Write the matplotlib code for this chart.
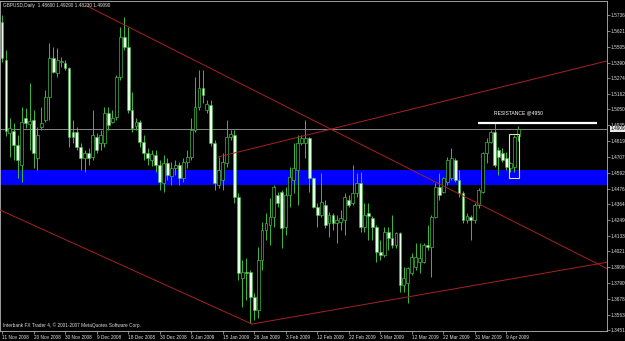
import matplotlib
matplotlib.use('Agg')
import matplotlib.pyplot as plt
from matplotlib.patches import Rectangle
import matplotlib.transforms as mtransforms
import numpy as np

plt.rcParams['font.family'] = ['Liberation Sans', 'DejaVu Sans']

title_text = "GBPUSD,Daily  1.48600 1.49290 1.48230 1.49090"
footer_text = "Interbank FX Trader 4, \u00a9 2001-2007 MetaQuotes Software Corp."
resistance_text = "RESISTANCE @4950"

opens = [
    1.5684, 1.5409, 1.4879, 1.4894, 1.4792, 1.4647, 1.4988, 1.4945, 1.4974, 1.4698,
    1.4923, 1.4974, 1.5140, 1.5423, 1.5314, 1.5394, 1.5386, 1.5351, 1.4887, 1.4887,
    1.4778, 1.4698, 1.4734, 1.4705, 1.4850, 1.4807, 1.4807, 1.5024, 1.4959, 1.4995,
    1.5285, 1.5575, 1.5503, 1.5046, 1.4930, 1.4959, 1.4814, 1.4734, 1.4684, 1.4720,
    1.4647, 1.4517, 1.4662, 1.4568, 1.4626, 1.4647, 1.4553, 1.4669, 1.4705, 1.4901,
    1.5068, 1.5206, 1.5046, 1.5082, 1.4807, 1.4502, 1.4539, 1.4662, 1.4850, 1.4865,
    1.4415, 1.3828, 1.3872, 1.3872, 1.3690, 1.3596, 1.3958, 1.4176, 1.4212, 1.4270,
    1.4430, 1.4452, 1.4198, 1.4430, 1.4539, 1.4611, 1.4807, 1.4807, 1.4843, 1.4553,
    1.4343, 1.4285, 1.4357, 1.4227, 1.4285, 1.4227, 1.4234, 1.4248, 1.4393, 1.4372,
    1.4444, 1.4517, 1.4198, 1.4299, 1.4263, 1.4198, 1.4016, 1.3994, 1.4161, 1.4118,
    1.4067, 1.4154, 1.3777, 1.3792, 1.3864, 1.3908, 1.3944, 1.3944, 1.4067, 1.4053,
    1.4270, 1.4488, 1.4452, 1.4524, 1.4553, 1.4684, 1.4539, 1.4444, 1.4248, 1.4270,
    1.4248, 1.4357, 1.4452, 1.4734, 1.4814, 1.4887, 1.4756, 1.4734, 1.4698, 1.4626,
    1.4633, 1.4860]
highs = [
    1.5735, 1.5481, 1.4988, 1.4952, 1.4865, 1.5068, 1.5061, 1.5242, 1.5046, 1.4923,
    1.5068, 1.5191, 1.5532, 1.5503, 1.5496, 1.5430, 1.5409, 1.5358, 1.4974, 1.4923,
    1.4807, 1.4756, 1.4771, 1.5046, 1.4879, 1.4901, 1.5068, 1.5068, 1.5046, 1.5300,
    1.5648, 1.5720, 1.5648, 1.5177, 1.4988, 1.4974, 1.4865, 1.4771, 1.4756, 1.4756,
    1.4684, 1.4720, 1.4698, 1.4669, 1.4684, 1.4669, 1.4698, 1.4756, 1.4988, 1.5285,
    1.5336, 1.5336, 1.5118, 1.5118, 1.4828, 1.4705, 1.4734, 1.4974, 1.4901, 1.4901,
    1.4444, 1.3959, 1.3973, 1.3886, 1.3719, 1.4053, 1.4234, 1.4299, 1.4408, 1.4502,
    1.4452, 1.4466, 1.4488, 1.4633, 1.4807, 1.4865, 1.4865, 1.4974, 1.4850, 1.4560,
    1.4372, 1.4589, 1.4393, 1.4307, 1.4299, 1.4285, 1.4321, 1.4444, 1.4430, 1.4647,
    1.4589, 1.4597, 1.4372, 1.4372, 1.4278, 1.4212, 1.4103, 1.4198, 1.4198, 1.4285,
    1.4161, 1.4161, 1.3908, 1.3908, 1.4009, 1.4082, 1.4082, 1.4082, 1.4212, 1.4285,
    1.4517, 1.4589, 1.4560, 1.4705, 1.4771, 1.4698, 1.4611, 1.4459, 1.4299, 1.4285,
    1.4372, 1.4481, 1.4741, 1.4843, 1.4901, 1.4952, 1.4778, 1.4771, 1.4741, 1.4669,
    1.4865, 1.4929]
lows = [
    1.5394, 1.4858, 1.4705, 1.4684, 1.4553, 1.4524, 1.4916, 1.4756, 1.4626, 1.4611,
    1.4901, 1.4959, 1.4974, 1.5314, 1.5285, 1.5358, 1.5336, 1.4778, 1.4807, 1.4756,
    1.4611, 1.4597, 1.4647, 1.4684, 1.4734, 1.4756, 1.4778, 1.4901, 1.4952, 1.4974,
    1.5264, 1.5481, 1.5024, 1.4887, 1.4901, 1.4778, 1.4684, 1.4647, 1.4640, 1.4597,
    1.4466, 1.4452, 1.4539, 1.4502, 1.4575, 1.4502, 1.4524, 1.4626, 1.4684, 1.4887,
    1.5046, 1.5097, 1.5024, 1.4785, 1.4466, 1.4481, 1.4466, 1.4633, 1.4828, 1.4372,
    1.3814, 1.3618, 1.3669, 1.3502, 1.3524, 1.3538, 1.3886, 1.4103, 1.4067, 1.4198,
    1.4343, 1.4046, 1.4140, 1.4343, 1.4444, 1.4357, 1.4792, 1.4698, 1.4452, 1.4336,
    1.4198, 1.4270, 1.4190, 1.4125, 1.4176, 1.4082, 1.4176, 1.4140, 1.4343, 1.4357,
    1.4415, 1.4161, 1.4161, 1.4103, 1.4103, 1.3944, 1.3958, 1.3980, 1.4031, 1.4046,
    1.4046, 1.3726, 1.3726, 1.3647, 1.3850, 1.3886, 1.3864, 1.3937, 1.4031, 1.3835,
    1.4263, 1.4393, 1.4444, 1.4502, 1.4539, 1.4524, 1.4415, 1.4227, 1.4227, 1.4103,
    1.4227, 1.4336, 1.4444, 1.4662, 1.4807, 1.4633, 1.4575, 1.4669, 1.4611, 1.4597,
    1.4597, 1.4823]
closes = [
    1.5423, 1.4894, 1.4916, 1.4792, 1.4684, 1.4959, 1.4952, 1.4966, 1.4734, 1.4865,
    1.4952, 1.5140, 1.5423, 1.5322, 1.5409, 1.5401, 1.5351, 1.4850, 1.4850, 1.4778,
    1.4698, 1.4734, 1.4698, 1.4865, 1.4756, 1.4865, 1.5024, 1.4937, 1.4988, 1.5285,
    1.5575, 1.5503, 1.5046, 1.4916, 1.4959, 1.4814, 1.4734, 1.4698, 1.4727, 1.4647,
    1.4524, 1.4662, 1.4575, 1.4626, 1.4647, 1.4553, 1.4669, 1.4705, 1.4901, 1.5068,
    1.5206, 1.5155, 1.5089, 1.4807, 1.4517, 1.4611, 1.4669, 1.4850, 1.4872, 1.4415,
    1.3864, 1.3872, 1.3864, 1.3690, 1.3596, 1.3958, 1.4176, 1.4227, 1.4270, 1.4488,
    1.4372, 1.4190, 1.4430, 1.4560, 1.4626, 1.4807, 1.4843, 1.4843, 1.4553, 1.4343,
    1.4285, 1.4379, 1.4212, 1.4285, 1.4227, 1.4248, 1.4263, 1.4415, 1.4357, 1.4444,
    1.4517, 1.4198, 1.4285, 1.4278, 1.4198, 1.4016, 1.3994, 1.4161, 1.4118, 1.4067,
    1.4154, 1.3777, 1.3828, 1.3901, 1.3980, 1.3980, 1.3973, 1.4067, 1.4053, 1.4270,
    1.4488, 1.4430, 1.4553, 1.4684, 1.4698, 1.4539, 1.4444, 1.4248, 1.4278, 1.4248,
    1.4357, 1.4466, 1.4734, 1.4814, 1.4887, 1.4647, 1.4705, 1.4684, 1.4633, 1.4662,
    1.4850, 1.4909]

date_labels = ["11 Nov 2008", "20 Nov 2008", "30 Nov 2008", "9 Dec 2008", "18 Dec 2008",
               "30 Dec 2008", "6 Jan 2009", "15 Jan 2009", "26 Jan 2009", "3 Feb 2009",
               "12 Feb 2009", "22 Feb 2009", "3 Mar 2009", "12 Mar 2009", "22 Mar 2009",
               "31 Mar 2009", "9 Apr 2009"]
price_ticks = [1.57365, 1.56210, 1.55055, 1.53900, 1.52745, 1.51625, 1.50505, 1.49350,
               1.48195, 1.47075, 1.45920, 1.44765, 1.43645, 1.42490, 1.41335, 1.40215,
               1.39060, 1.37905, 1.36785, 1.35630, 1.34510]
bid_price = 1.49090
resistance_price = 1.4950
zone_low, zone_high = 1.4505, 1.4613
box_low, box_high = 1.4553, 1.4872

# trend lines: (bar index, price) endpoints
trend_lines = [
    ([21.3, 160.0], [1.5804, 1.3803]),
    ([54.8, 160.0], [1.4705, 1.5447]),
    ([63.45, 160.0], [1.3494, 1.3974]),
    ([-1.0, 63.45], [1.4327, 1.3494]),
]

GREEN = '#3cbc3c'
BEAR_FILL = '#e6ffe6'
RED = '#a82222'
AXIS_COL = '#b8b8b8'
TXT = '#e0e0e0'

W, H = 625, 341
fig = plt.figure(figsize=(W / 100, H / 100), dpi=100, facecolor='black')
ax = fig.add_axes([0, 10 / H, 607 / W, 330 / H])
ax.set_facecolor('black')

o = np.array(opens); h = np.array(highs); l = np.array(lows); c = np.array(closes)
idx = np.arange(len(o))

ax.axhspan(zone_low, zone_high, color='#0000ff', zorder=1, lw=0)
ax.axhline(bid_price, color='#9c9c9c', lw=0.6, zorder=2)

ax.vlines(idx, l, h, color=GREEN, lw=0.7, zorder=3)
bull = c >= o
bear = ~bull
bw = 0.72
ax.bar(idx[bull], np.maximum(c[bull] - o[bull], 0.00008), bottom=o[bull], width=bw,
       facecolor='black', edgecolor=GREEN, lw=0.5, zorder=4)
ax.bar(idx[bear], o[bear] - c[bear], bottom=c[bear], width=bw,
       facecolor=BEAR_FILL, edgecolor=GREEN, lw=0.4, zorder=4)

for xs, ys in trend_lines:
    ax.plot(xs, ys, color=RED, lw=0.7, zorder=5)

ax.plot([120.8, 151.0], [resistance_price, resistance_price], color='white', lw=1.6,
        solid_capstyle='butt', zorder=6)
ax.text(131.0, 1.5025, resistance_text, color='white', fontsize=3.6, ha='center',
        va='center', zorder=6)
ax.add_patch(Rectangle((128.7, box_low), 2.5, box_high - box_low, fill=False,
                       edgecolor='#dbe89a', lw=0.8, zorder=6))

ax.set_xlim(-0.508, 153.55)
ax.set_ylim(1.34436, 1.58363)

ax.yaxis.tick_right()
ax.set_yticks(price_ticks)
ax.set_yticklabels([f"{v:.5f}" for v in price_ticks], fontsize=3.4, color=TXT)
ax.tick_params(axis='y', direction='out', length=1.8, width=0.5, color=AXIS_COL, pad=1)

ax.set_xticks(np.arange(len(date_labels)) * 8)
ax.set_xticklabels(date_labels, fontsize=3.4, color=TXT, ha='left')
ax.tick_params(axis='x', direction='out', length=2.0, width=0.5, color=AXIS_COL, pad=1)

for s in ax.spines.values():
    s.set_color(AXIS_COL)
    s.set_linewidth(0.6)

tr = mtransforms.blended_transform_factory(ax.transAxes, ax.transData)
ax.text(1.0 + 3.5 / 607, bid_price, "1.49090", transform=tr, fontsize=3.4, color='black',
        va='center', ha='left', zorder=10,
        bbox=dict(boxstyle='square,pad=0.15', fc='#e8e8e8', ec='none'), clip_on=False)

fig.text(3 / W, 1 - 5 / H, title_text, fontsize=3.4, color=TXT, va='center', ha='left')
fig.text(3 / W, (H - 325) / H, footer_text, fontsize=3.4, color=TXT, va='center', ha='left')

fig.savefig('out.png', dpi=100, facecolor='black')
